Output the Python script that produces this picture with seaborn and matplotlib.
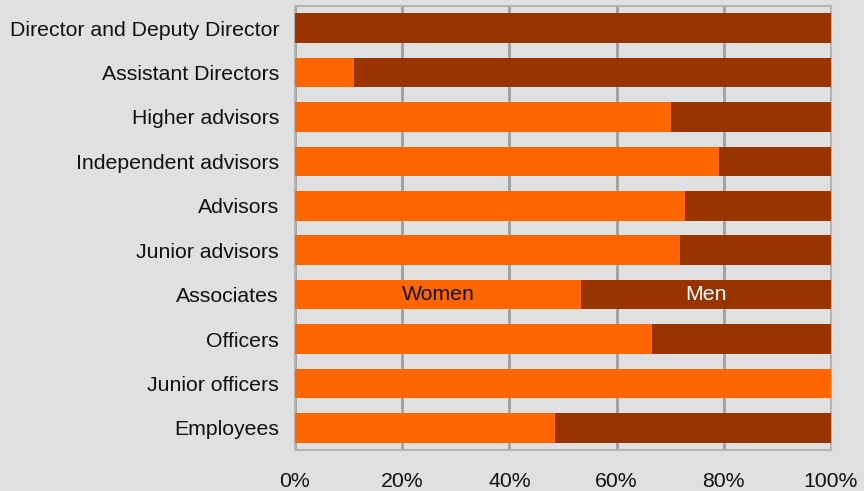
import matplotlib
matplotlib.use("Agg")
import matplotlib.pyplot as plt
import seaborn as sns
import pandas as pd
from matplotlib.ticker import FuncFormatter

# Share of women and men per job category (percent)
categories = [
    "Director and Deputy Director",
    "Assistant Directors",
    "Higher advisors",
    "Independent advisors",
    "Advisors",
    "Junior advisors",
    "Associates",
    "Officers",
    "Junior officers",
    "Employees",
]
women = [0.0, 11.0, 70.1, 79.1, 72.8, 71.8, 53.3, 66.6, 100.0, 48.5]
men = [100.0, 89.0, 29.9, 20.9, 27.2, 28.2, 46.7, 33.4, 0.0, 51.5]
x_ticks = [0, 20, 40, 60, 80, 100]

df = pd.DataFrame({"category": categories, "Women": women, "Men": men})
df["Total"] = df["Women"] + df["Men"]

sns.set_theme(style="white")
plt.rcParams["font.family"] = ["Liberation Sans", "DejaVu Sans"]

bg = "#e0e0e0"
women_color = "#ff6600"
men_color = "#993300"
fs = 15.3

fig = plt.figure(figsize=(8.64, 4.91), dpi=100, facecolor=bg)
ax = fig.add_axes([295 / 864, 1 - 450 / 491, 536 / 864, 444 / 491])
ax.set_facecolor(bg)

# Stacked bars: full length (men on the right), women drawn over it from zero
sns.barplot(data=df, y="category", x="Total", color=men_color, width=0.67,
            saturation=1, linewidth=0, ax=ax, orient="h", zorder=3)
sns.barplot(data=df, y="category", x="Women", color=women_color, width=0.67,
            saturation=1, linewidth=0, ax=ax, orient="h", zorder=3)

ax.set_xlim(0, 100)
ax.set_ylim(len(categories) - 0.5, -0.5)
ax.set_xticks(x_ticks)
ax.xaxis.set_major_formatter(FuncFormatter(lambda v, _: f"{v:.0f}%"))
ax.grid(axis="x", color="#a0a0a0", linewidth=2, zorder=0)
ax.grid(axis="y", visible=False)
ax.set_axisbelow(True)
ax.set_xlabel("")
ax.set_ylabel("")
ax.tick_params(axis="x", length=0, pad=16, labelsize=fs, colors="#111111")
ax.tick_params(axis="y", length=0, pad=11.5, labelsize=fs, colors="#111111")
for side in ["left", "top", "right", "bottom"]:
    ax.spines[side].set_color("#b4b4b4")
    ax.spines[side].set_linewidth(1.5)

# In-bar series labels on the Associates row
row = categories.index("Associates")
w = women[row]
ax.text(w / 2, row, "Women", ha="center", va="center", fontsize=fs,
        color="#111111", zorder=5)
ax.text(w + men[row] / 2, row, "Men", ha="center", va="center", fontsize=fs,
        color="white", zorder=5)

fig.savefig("out.png", dpi=100, facecolor=bg)
